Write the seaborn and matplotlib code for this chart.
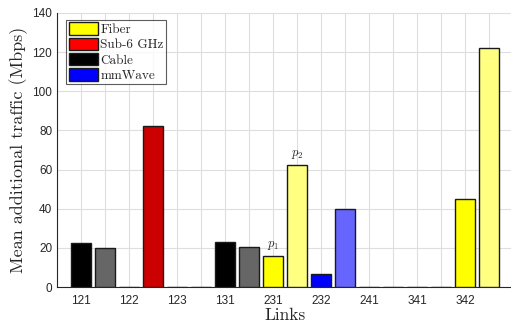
import matplotlib
matplotlib.use("Agg")
import matplotlib.pyplot as plt
from matplotlib.patches import Patch
import numpy as np
import pandas as pd
import seaborn as sns

# Links and the two traffic values measured on each link
links = ['121', '122', '123', '131', '231', '232', '241', '341', '342']
first_vals = [22.5, 0.25, 0.25, 23.0, 16.0, 6.5, 0.25, 0.25, 45.0]
second_vals = [20.0, 82.5, 0.25, 20.3, 62.5, 40.0, 0.25, 0.25, 122.0]
first_colors = ['#000000', '#aa0000', '#0000ff', '#000000', '#ffff00',
                '#0000ff', '#aa0000', '#aa0000', '#ffff00']
second_colors = ['#666666', '#cc0000', '#0000ff', '#666666', '#ffff80',
                 '#6666ff', '#cc0000', '#cc0000', '#ffff80']

legend_names = ['Fiber', 'Sub-6 GHz', 'Cable', 'mmWave']
legend_colors = ['#ffff00', '#ff0000', '#000000', '#0000ff']

# interleave the two bars of each link into consecutive positions
values, colors, positions = [], [], []
for i in range(len(links)):
    values += [first_vals[i], second_vals[i]]
    colors += [first_colors[i], second_colors[i]]
    positions += [2 * i + 1, 2 * i + 2]
df = pd.DataFrame({'pos': positions, 'val': values})

sns.set_style('white')
plt.rcParams['mathtext.fontset'] = 'cm'

fig = plt.figure(figsize=(5.11, 3.22), dpi=100)
ax = fig.add_axes([57 / 511, 35 / 322, 456 / 511, 274 / 322])

sns.barplot(data=df, x='pos', y='val', hue='pos', palette=colors,
            native_scale=True, legend=False, width=0.8, saturation=1,
            edgecolor='#1a1a1a', linewidth=1.0, ax=ax, zorder=3)

ax.set_xlim(0, 19)
ax.set_ylim(0, 140)
ax.set_yticks(np.arange(0, 141, 20))
ax.set_xticks(np.arange(1, 19, 2))
ax.set_xticklabels(links)
ax.set_xticks(np.arange(0, 20, 1), minor=True)

ax.grid(True, which='major', color='#dedede', linewidth=0.8, zorder=0)
ax.grid(True, which='minor', axis='x', color='#dedede', linewidth=0.8, zorder=0)
ax.set_axisbelow(True)

for side in ['top', 'right']:
    ax.spines[side].set_visible(False)
for side in ['left', 'bottom']:
    ax.spines[side].set_color('#262626')
    ax.spines[side].set_linewidth(0.8)

ax.tick_params(axis='both', which='major', direction='in', length=3,
               labelsize=8.5, colors='#262626', labelfontfamily='Liberation Sans')
ax.tick_params(axis='x', which='minor', length=0)
ax.tick_params(axis='x', pad=6)

ax.set_xlabel('Links', family='cmr10', fontsize=12.5, labelpad=0)
ax.set_ylabel('Mean additional traffic (Mbps)', family='cmr10', fontsize=13,
              labelpad=3)

# annotations above the two 231 bars
ax.text(9, first_vals[4] + 2, r'$p_1$', ha='center', va='bottom', fontsize=9)
ax.text(10, second_vals[4] + 2, r'$p_2$', ha='center', va='bottom', fontsize=9)

handles = [Patch(facecolor=c, edgecolor='#1a1a1a', linewidth=1.0)
           for c in legend_colors]
leg = ax.legend(handles, legend_names, loc='upper left',
                bbox_to_anchor=(0.02, 0.975), prop={'family': 'cmr10', 'size': 9.5},
                frameon=True, fancybox=False, edgecolor='#333333',
                handlelength=2.2, handleheight=1.1, handletextpad=0.2,
                labelspacing=0.1, borderpad=0.2, borderaxespad=0)
leg.get_frame().set_linewidth(0.8)

fig.savefig('out.png', dpi=100)
